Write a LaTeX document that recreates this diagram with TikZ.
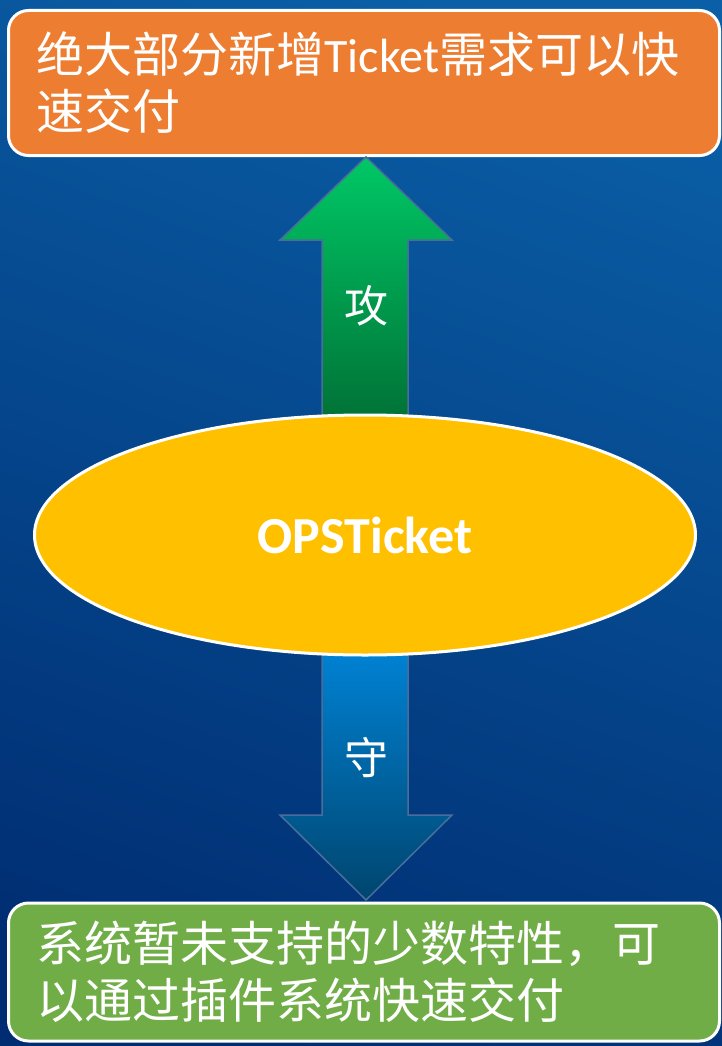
\documentclass[tikz,border=0pt]{standalone}
\usepackage{fontspec}
\setmainfont{Carlito}
\newfontfamily\cjk{Noto Sans CJK SC}
\usetikzlibrary{shapes.geometric}
\definecolor{bgtop}{HTML}{0A5FA6}
\definecolor{bgbot}{HTML}{002D72}
\definecolor{orangebox}{HTML}{ED7D31}
\definecolor{greenbox}{HTML}{70AD47}
\definecolor{gold}{HTML}{FFC000}
\definecolor{upTop}{HTML}{00C866}
\definecolor{upBot}{HTML}{007236}
\definecolor{dnTop}{HTML}{0082D4}
\definecolor{dnBot}{HTML}{00456E}
\definecolor{arrowedge}{HTML}{4A6E9C}
\tikzset{
  textbox/.style={draw=white, line width=3pt, rounded corners=20pt, minimum width=711pt,
    text width=655pt, inner xsep=28pt, align=left, text=white,
    font=\fontsize{48}{57}\selectfont\cjk},
  blockarrow/.style={draw=arrowedge, line width=1.5pt},
  arrowlabel/.style={text=white, font=\fontsize{44}{44}\selectfont\cjk},
}
\begin{document}
\begin{tikzpicture}[x=1pt,y=-1pt]
\useasboundingbox (0,0) rectangle (721,1046);
\shade[top color=bgtop, bottom color=bgbot, shading angle=-20] (-40,-40) rectangle (761,1086);
% boxes
\node[textbox, fill=orangebox, minimum height=145pt] (top) at (364,83)
  {绝大部分新增{\fontspec{Carlito}Ticket}需求可以快\\速交付};
\node[textbox, fill=greenbox, minimum height=138pt] (bot) at (364,972)
  {系统暂未支持的少数特性，可\\以通过插件系统快速交付};
% arrows
\shade[blockarrow, top color=upTop, bottom color=upBot]
  (366,157) -- (452,240) -- (408,240) -- (408,420) -- (322,420) -- (322,240) -- (280,240) -- cycle;
\shade[blockarrow, top color=dnTop, bottom color=dnBot]
  (322,650) -- (408,650) -- (408,815) -- (452,815) -- (366,900) -- (280,815) -- (322,815) -- cycle;
\node[arrowlabel] (gong) at (366,306) {攻};
\node[arrowlabel] (shou) at (366,758) {守};
% ellipse
\node[ellipse, draw=white, line width=3pt, fill=gold, minimum width=661pt, minimum height=240pt,
  inner sep=0pt, text=white, font=\fontsize{52}{52}\selectfont\bfseries] (ops) at (365,535) {OPSTicket};
\end{tikzpicture}
\end{document}
